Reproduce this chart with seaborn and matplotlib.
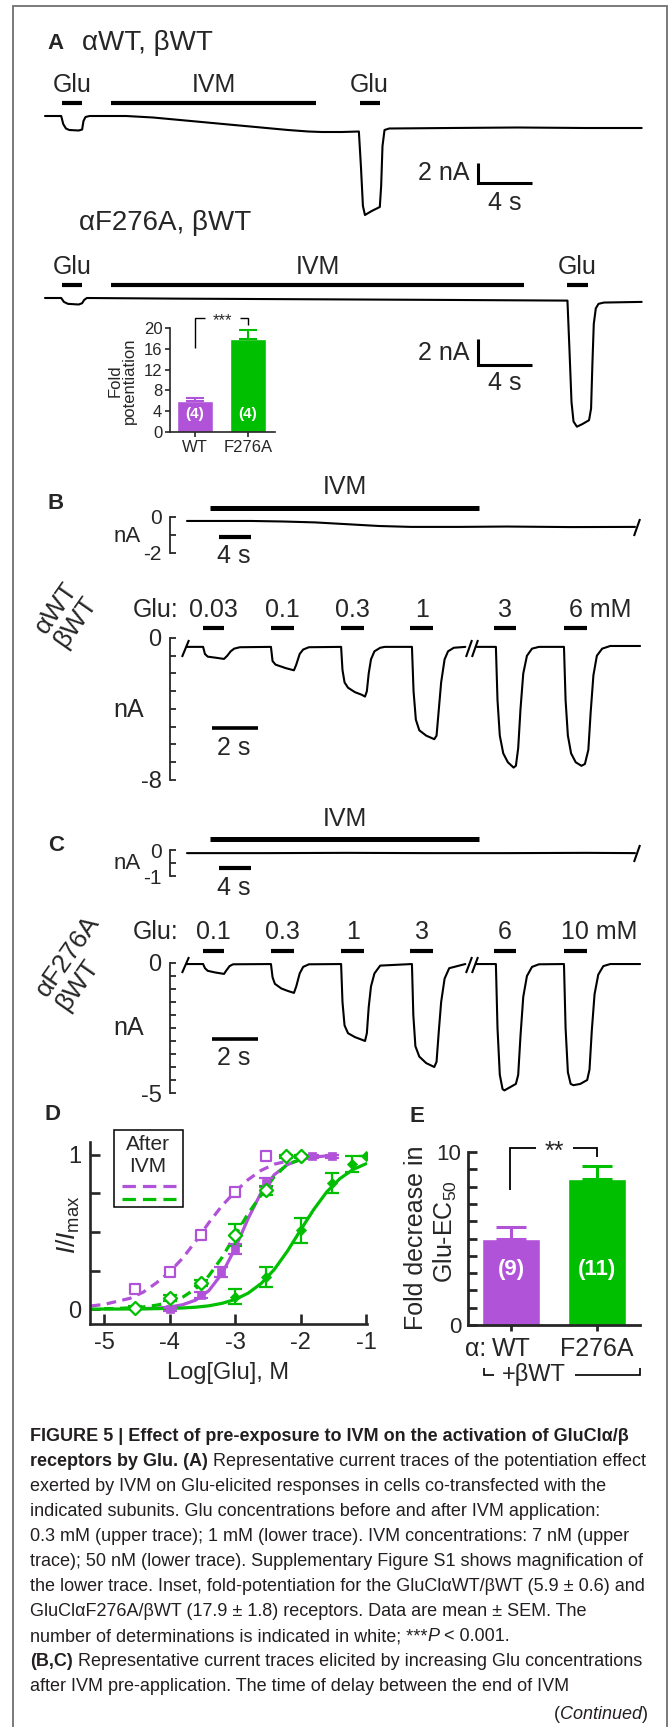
import numpy as np
import matplotlib
matplotlib.use("Agg")
import matplotlib.pyplot as plt
import matplotlib.transforms as mtransforms
from matplotlib import font_manager
import seaborn as sns

W, H = 672, 1727
PURPLE = "#b153d8"
GREEN = "#00be00"

# ---------------- data ----------------
# Panel A, records (time in s, current in nA)
a1_t = [0, 1.2, 1.35, 1.55, 1.8, 2.5, 2.75, 2.85, 3.0, 3.3, 6.0, 8, 10, 12, 14, 16, 18, 19.5, 20.5, 22,
        23.25, 23.4, 23.55, 23.7, 24.2, 24.8, 24.9, 25.0, 25.15, 25.5, 30, 35, 40, 44.2]
a1_i = [0, 0, -0.8, -1.25, -1.4, -1.45, -1.35, -0.5, -0.1, 0, 0, -0.15, -0.4, -0.65, -0.9, -1.15, -1.4, -1.55, -1.6, -1.6,
        -1.55, -5, -9, -9.9, -9.5, -9.1, -7, -3, -1.4, -1.25, -1.2, -1.15, -1.2, -1.2]
a1_glu = [(1.26, 2.74), (23.3, 24.8)]
a1_ivm = (4.9, 20.1)

a2_t = [0, 1.2, 1.4, 1.7, 2.5, 2.75, 2.9, 3.1, 10, 20, 30, 38.7,
        38.85, 39.0, 39.15, 39.4, 39.8, 40.3, 40.45, 40.55, 40.65, 40.8, 41.0, 41.4, 44.2]
a2_i = [0, 0, -0.3, -0.45, -0.5, -0.4, -0.15, 0, -0.05, -0.1, -0.15, -0.2,
        -4, -8, -9.5, -9.9, -9.7, -9.4, -8.5, -5, -2, -0.8, -0.45, -0.35, -0.3]
a2_glu = [(1.26, 2.74), (38.7, 40.2)]
a2_ivm = (4.9, 35.5)

# inset: fold potentiation
inset_rec = ["WT", "F276A"]
inset_fold = [5.9, 17.9]
inset_sem = [0.6, 1.8]
inset_n = ["(4)", "(4)"]

# B/C IVM pre-application records
ivm_bc = (2.9, 36.5)
b_ivm_t = [0, 8, 12, 16, 20, 24, 28, 34, 40, 48, 56]
b_ivm_i = [-0.22, -0.22, -0.25, -0.3, -0.4, -0.5, -0.55, -0.55, -0.53, -0.56, -0.55]
c_ivm_t = [0, 10, 20, 30, 40, 50, 56]
c_ivm_i = [-0.12, -0.12, -0.11, -0.12, -0.12, -0.11, -0.12]

# B/C Glu applications
glu_bc = [(0.70, 1.61), (3.65, 4.65), (6.70, 7.70), (9.70, 10.70), (13.35, 14.30), (16.39, 17.39)]
b_conc = ["0.03", "0.1", "0.3", "1", "3", "6 mM"]
c_conc = ["0.1", "0.3", "1", "3", "6", "10 mM"]

b1_t = [0, 0.70, 0.78, 0.9, 1.3, 1.61, 1.75, 1.9, 2.05, 2.3,
        3.65, 3.72, 3.85, 4.3, 4.65, 4.75, 4.9, 5.05, 5.3,
        6.70, 6.76, 6.85, 7.0, 7.3, 7.6, 7.74, 7.82, 7.9, 8.0, 8.15, 8.4, 8.6,
        9.78, 9.85, 9.95, 10.1, 10.4, 10.75, 10.85, 10.95, 11.05, 11.2, 11.35, 11.6, 12.1]
b1_i = [-0.5, -0.5, -0.9, -1.05, -1.12, -1.18, -1.0, -0.75, -0.6, -0.52,
        -0.5, -1.3, -1.5, -1.7, -1.82, -1.5, -0.9, -0.65, -0.52,
        -0.5, -1.8, -2.5, -2.8, -3.05, -3.2, -3.3, -3.0, -2.0, -1.2, -0.75, -0.55, -0.5,
        -0.5, -3.0, -4.6, -5.2, -5.5, -5.7, -5.5, -4.0, -2.5, -1.2, -0.75, -0.55, -0.5]
b2_t = [12.6, 13.43, 13.5, 13.6, 13.75, 13.95, 14.2, 14.3, 14.4, 14.5, 14.62, 14.78, 15.0, 15.3,
        16.39, 16.46, 16.56, 16.7, 16.9, 17.15, 17.3, 17.45, 17.55, 17.67, 17.82, 18.05, 18.4, 19.7]
b2_i = [-0.5, -0.5, -3.5, -5.5, -6.5, -7.0, -7.3, -7.2, -6.2, -4.0, -2.0, -1.0, -0.6, -0.5,
        -0.5, -3.5, -5.5, -6.5, -7.0, -7.2, -7.1, -6.3, -4.2, -2.1, -1.0, -0.6, -0.45, -0.45]

c1_t = [0, 0.70, 0.78, 0.9, 1.2, 1.61, 1.7, 1.85, 2.0,
        3.65, 3.72, 3.82, 4.1, 4.4, 4.65, 4.75, 4.9, 5.05, 5.3,
        6.70, 6.76, 6.85, 7.0, 7.3, 7.6, 7.74, 7.82, 7.9, 8.0, 8.15, 8.4,
        9.78, 9.84, 9.93, 10.1, 10.4, 10.75, 10.85, 10.95, 11.05, 11.2, 11.4, 12.1]
c1_i = [-0.04, -0.04, -0.2, -0.3, -0.36, -0.42, -0.3, -0.12, -0.05,
        -0.04, -0.55, -0.8, -0.98, -1.08, -1.15, -0.9, -0.4, -0.15, -0.05,
        -0.04, -1.5, -2.4, -2.7, -2.85, -2.95, -3.0, -2.7, -1.7, -0.9, -0.4, -0.1,
        -0.04, -2.0, -3.2, -3.6, -3.85, -4.0, -3.8, -2.6, -1.5, -0.6, -0.2, -0.04]
c2_t = [12.6, 13.43, 13.5, 13.6, 13.72, 13.8, 14.0, 14.3, 14.4, 14.5, 14.62, 14.78, 15.0, 15.3,
        16.39, 16.46, 16.56, 16.68, 16.8, 17.1, 17.4, 17.5, 17.6, 17.72, 17.88, 18.1, 18.4, 19.7]
c2_i = [-0.04, -0.04, -2.5, -4.3, -4.85, -4.9, -4.8, -4.65, -4.3, -2.8, -1.3, -0.5, -0.15, -0.05,
        -0.04, -2.5, -4.2, -4.65, -4.7, -4.65, -4.5, -4.1, -2.6, -1.2, -0.45, -0.12, -0.04, -0.04]

# D: concentration-response (log M, I/Imax)
wt_ivm_x = [-4.52, -4.0, -3.52, -3.0, -2.52]
wt_ivm_y = [0.13, 0.24, 0.48, 0.76, 0.99]
wt_x = [-4.0, -3.52, -3.22, -3.0, -2.52, -1.82, -1.52]
wt_y = [0.0, 0.09, 0.24, 0.39, 0.82, 0.99, 0.99]
wt_err = [0.01, 0.02, 0.03, 0.03, 0.03, 0.01, 0.01]
f_ivm_x = [-4.52, -4.0, -3.52, -3.0, -2.52, -2.22, -2.0]
f_ivm_y = [0.01, 0.07, 0.17, 0.48, 0.77, 0.99, 0.99]
f_ivm_err = [0.01, 0.02, 0.02, 0.07, 0.03, 0.01, 0.01]
f_x = [-3.0, -2.52, -2.0, -1.52, -1.22, -1.0]
f_y = [0.08, 0.21, 0.51, 0.82, 0.94, 0.99]
f_err = [0.05, 0.065, 0.08, 0.065, 0.05, 0.0]

fit_wt_ivm_x = [-5.2, -5.0, -4.8, -4.6, -4.4, -4.2, -4.0, -3.8, -3.6, -3.4, -3.2, -3.0, -2.8, -2.6, -2.4, -2.2]
fit_wt_ivm_y = [0.02, 0.03, 0.05, 0.07, 0.11, 0.17, 0.24, 0.33, 0.44, 0.56, 0.67, 0.76, 0.84, 0.90, 0.94, 0.96]
fit_wt_x = [-4.4, -4.2, -4.0, -3.8, -3.6, -3.4, -3.2, -3.0, -2.8, -2.6, -2.4, -2.2, -2.0, -1.8, -1.6, -1.5]
fit_wt_y = [0.003, 0.006, 0.013, 0.028, 0.058, 0.119, 0.229, 0.392, 0.587, 0.757, 0.872, 0.937, 0.970, 0.986, 0.994, 0.996]
fit_f_ivm_x = [-5.0, -4.8, -4.6, -4.4, -4.2, -4.0, -3.8, -3.6, -3.4, -3.2, -3.0, -2.8, -2.6, -2.4, -2.2, -2.0]
fit_f_ivm_y = [0.002, 0.004, 0.008, 0.014, 0.025, 0.044, 0.077, 0.132, 0.216, 0.334, 0.477, 0.62, 0.74, 0.86, 0.94, 0.97]
fit_f_x = [-5.2, -4.8, -4.4, -4.0, -3.8, -3.6, -3.4, -3.2, -3.0, -2.8, -2.6, -2.4, -2.2, -2.0, -1.8, -1.6, -1.4, -1.2, -1.0]
fit_f_y = [0.0, 0.0, 0.001, 0.004, 0.007, 0.012, 0.021, 0.037, 0.062, 0.103, 0.166, 0.257, 0.376, 0.512, 0.645, 0.760, 0.846, 0.905, 0.943]
d_xticks = [-5, -4, -3, -2, -1]

# E: fold decrease in Glu-EC50
e_rec = ["WT", "F276A"]
e_fold = [5.0, 8.44]
e_sem = [0.65, 0.75]
e_n = ["(9)", "(11)"]

caption = [
    [("FIGURE 5 | Effect of pre-exposure to IVM on the activation of GluClα/β", "bold", "normal")],
    [("receptors by Glu. (A)", "bold", "normal"),
     (" Representative current traces of the potentiation effect", "normal", "normal")],
    [("exerted by IVM on Glu-elicited responses in cells co-transfected with the", "normal", "normal")],
    [("indicated subunits. Glu concentrations before and after IVM application:", "normal", "normal")],
    [("0.3 mM (upper trace); 1 mM (lower trace). IVM concentrations: 7 nM (upper", "normal", "normal")],
    [("trace); 50 nM (lower trace). Supplementary Figure S1 shows magnification of", "normal", "normal")],
    [("the lower trace. Inset, fold-potentiation for the GluClαWT/βWT (5.9 ± 0.6) and", "normal", "normal")],
    [("GluClαF276A/βWT (17.9 ± 1.8) receptors. Data are mean ± SEM. The", "normal", "normal")],
    [("number of determinations is indicated in white; ***", "normal", "normal"), ("P", "normal", "italic"),
     (" < 0.001.", "normal", "normal")],
    [("(B,C)", "bold", "normal"),
     (" Representative current traces elicited by increasing Glu concentrations", "normal", "normal")],
    [("after IVM pre-application. The time of delay between the end of IVM", "normal", "normal")],
]

# ---------------- figure ----------------
sns.set_style("white")
plt.rcParams["font.family"] = ["Liberation Sans", "DejaVu Sans"]
plt.rcParams["mathtext.fontset"] = "custom"
plt.rcParams["mathtext.rm"] = "Liberation Sans"
plt.rcParams["mathtext.it"] = "Liberation Sans:italic"

LBL = 18  # size of trace labels

fig = plt.figure(figsize=(W / 100, H / 100), dpi=100)
ov = fig.add_axes([0, 0, 1, 1])
ov.set_xlim(0, W)
ov.set_ylim(H, 0)
ov.axis("off")
ov.patch.set_visible(False)


def px_axes(x0, x1, y0, y1):
    ax = fig.add_axes([x0 / W, 1 - y1 / H, (x1 - x0) / W, (y1 - y0) / H])
    ax.patch.set_visible(False)
    return ax


def trace_axes(x0, x1, y0, y1, tpx, ipx, px_s, px_na):
    ax = px_axes(x0, x1, y0, y1)
    ax.set_xlim((x0 - tpx) / px_s, (x1 - tpx) / px_s)
    ax.set_ylim((ipx - y1) / px_na, (ipx - y0) / px_na)
    for sp in ax.spines.values():
        sp.set_visible(False)
    ax.set_xticks([])
    ax.set_yticks([])
    return ax


def blend(ax):
    return mtransforms.blended_transform_factory(ax.transData, ov.transData)


def trace(ax, t, i, lw=1.5):
    sns.lineplot(x=t, y=i, ax=ax, color="black", lw=lw, sort=False, estimator=None)


def hbar(ax, span, ypx, lw=3.0):
    ax.plot(list(span), [ypx, ypx], color="black", lw=lw, solid_capstyle="butt",
            transform=blend(ax), clip_on=False)


def btext(ax, t, ypx, s, size=LBL, **kw):
    kw.setdefault("ha", "center")
    ax.text(t, ypx, s, fontsize=size, va="center", transform=blend(ax), clip_on=False, **kw)


def ptext(x, y, s, size=LBL, **kw):
    kw.setdefault("ha", "center")
    kw.setdefault("va", "center")
    return ov.text(x, y, s, fontsize=size, **kw)


def pline(xs, ys, lw=1.2, color="black"):
    ov.plot(xs, ys, color=color, lw=lw, solid_capstyle="butt", solid_joinstyle="miter")


def scalebar(ax, t, i, dt, di):
    ax.plot([t, t, t + dt], [i + di, i, i], color="black", lw=2.2,
            solid_joinstyle="miter", solid_capstyle="butt", clip_on=False)


def nA_axis(ax, ticks, labels, size):
    sp = ax.spines["left"]
    sp.set_visible(True)
    sp.set_bounds(min(ticks), max(ticks))
    sp.set_linewidth(1.3)
    ax.set_yticks(ticks)
    ax.set_yticklabels(labels)
    ax.tick_params(axis="y", direction="in", length=4.5, width=1.3, labelsize=size, pad=6, left=True)


# frame
pline([13, 13, 667, 667], [H + 5, 6, 6, H + 5], lw=1.3, color="#707070")

# ---- Panel A ----
ptext(47, 43, "A", size=16, weight="bold", ha="left")
ptext(82, 43, "αWT, βWT", size=20, ha="left")
axA1 = trace_axes(40, 650, 60, 240, 45, 116, 13.5, 10)
trace(axA1, a1_t, a1_i)
for g in a1_glu:
    hbar(axA1, g, 103)
    btext(axA1, np.mean(g), 85, "Glu")
hbar(axA1, a1_ivm, 103)
btext(axA1, np.mean(a1_ivm), 85, "IVM")
scalebar(axA1, (478 - 45) / 13.5, (116 - 183) / 10, 4, 2)
ptext(469, 173, "2 nA", ha="right")
ptext(505, 203, "4 s")

ptext(79, 223, "αF276A, βWT", size=20, ha="left")
axA2 = trace_axes(40, 650, 240, 440, 45, 298, 13.5, 13)
trace(axA2, a2_t, a2_i)
for g in a2_glu:
    hbar(axA2, g, 285)
    btext(axA2, np.mean(g), 267, "Glu")
hbar(axA2, a2_ivm, 285)
btext(axA2, np.mean(a2_ivm), 267, "IVM")
scalebar(axA2, (478 - 45) / 13.5, (298 - 365) / 13, 4, 2)
ptext(469, 353, "2 nA", ha="right")
ptext(505, 383, "4 s")

# inset
ins = px_axes(170, 275, 328, 432)
sns.barplot(x=inset_rec, y=inset_fold, hue=inset_rec, palette=[PURPLE, GREEN], width=0.68,
            saturation=1, legend=False, ax=ins)
for k, col in enumerate([PURPLE, GREEN]):
    ins.errorbar(k, inset_fold[k], yerr=[[0], [inset_sem[k]]], fmt="none", ecolor=col,
                 elinewidth=1.5, capsize=6.8, capthick=1.5)
    ins.text(k, 3.4, inset_n[k], color="white", fontsize=11, weight="bold", ha="center", va="center")
ins.set_xlim(-0.47, 1.51)
ins.set_ylim(0, 20)
ins.set_yticks([0, 4, 8, 12, 16, 20])
sns.despine(ax=ins)
for s in ["left", "bottom"]:
    ins.spines[s].set_linewidth(1.2)
ins.tick_params(direction="out", length=3.5, width=1.2, labelsize=12, pad=2, left=True, bottom=True)
ptext(122, 381, "Fold\npotentiation", size=12, rotation=90, linespacing=0.95)
pline([195, 195, 205], [348, 318, 318], lw=1.0)
pline([240, 248, 248], [318, 318, 325], lw=1.0)
ptext(222, 321, "***", size=12)

# ---- Panel B ----
ptext(56, 503, "B", size=16, weight="bold")
axBt = trace_axes(170, 645, 480, 565, 187, 517, 8, 18)
trace(axBt, b_ivm_t, b_ivm_i)
hbar(axBt, ivm_bc, 508, lw=3.6)
btext(axBt, np.mean(ivm_bc), 487, "IVM")
hbar(axBt, (4.0, 8.0), 537)
nA_axis(axBt, [-2, -1, 0], ["-2", "", "0"], 15)
ptext(127, 536, "nA", size=16)
ptext(234, 556, "4 s")
pline([634, 640], [536, 519], lw=1.5)

ptext(66, 615, "αWT\nβWT", size=19, rotation=55, multialignment="left", linespacing=1.0)

axB = trace_axes(170, 645, 595, 790, 187, 638, 23, 17.75)
trace(axB, b1_t, b1_i)
trace(axB, b2_t, b2_i)
ptext(179, 610, "Glu:", ha="right")
for k, g in enumerate(glu_bc):
    hbar(axB, g, 628)
    if k < len(glu_bc) - 1:
        btext(axB, np.mean(g), 610, b_conc[k])
    else:
        btext(axB, np.mean(g) - 0.3, 610, b_conc[k], ha="left")
nA_axis(axB, list(range(-8, 1)), ["-8"] + [""] * 7 + ["0"], 17)
hbar(axB, (1.09, 3.09), 728, lw=2.6)
ptext(129, 710, "nA")
ptext(234, 748, "2 s")
pline([182, 189], [657, 640], lw=1.5)
pline([466, 472], [657, 640], lw=1.5)
pline([472, 478], [657, 640], lw=1.5)

# ---- Panel C ----
ptext(56, 845, "C", size=16, weight="bold")
axCt = trace_axes(170, 645, 812, 890, 187, 850, 8, 26)
trace(axCt, c_ivm_t, c_ivm_i)
hbar(axCt, ivm_bc, 839, lw=3.6)
btext(axCt, np.mean(ivm_bc), 819, "IVM")
hbar(axCt, (4.0, 8.0), 868)
nA_axis(axCt, [-1, -0.5, 0], ["-1", "", "0"], 15)
ptext(127, 863, "nA", size=16)
ptext(234, 888, "4 s")
pline([634, 640], [862, 845], lw=1.5)

ptext(78, 963, "αF276A\nβWT", size=19, rotation=55, multialignment="left", linespacing=1.0)

axC = trace_axes(170, 645, 920, 1100, 187, 963, 23, 26)
trace(axC, c1_t, c1_i)
trace(axC, c2_t, c2_i)
ptext(179, 932, "Glu:", ha="right")
for k, g in enumerate(glu_bc):
    hbar(axC, g, 951)
    if k < len(glu_bc) - 1:
        btext(axC, np.mean(g), 932, c_conc[k])
    else:
        btext(axC, np.mean(g) - 0.65, 932, c_conc[k], ha="left")
nA_axis(axC, [-5, -4.5, -4, -3.5, -3, -2.5, -2, -1.5, -1, -0.5, 0], ["-5"] + [""] * 9 + ["0"], 17)
hbar(axC, (1.09, 3.09), 1039, lw=2.6)
ptext(129, 1028, "nA")
ptext(234, 1058, "2 s")
pline([182, 189], [973, 957], lw=1.5)
pline([466, 472], [973, 957], lw=1.5)
pline([472, 478], [973, 957], lw=1.5)

# ---- Panel D ----
ptext(53, 1115, "D", size=16, weight="bold")
axD = px_axes(90, 367, 1142, 1324)
for fx, fy, col, dashed in [(fit_wt_ivm_x, fit_wt_ivm_y, PURPLE, True), (fit_wt_x, fit_wt_y, PURPLE, False),
                            (fit_f_ivm_x, fit_f_ivm_y, GREEN, True), (fit_f_x, fit_f_y, GREEN, False)]:
    sns.lineplot(x=fx, y=fy, ax=axD, color=col, lw=2.3, sort=False, estimator=None)
    if dashed:
        axD.lines[-1].set_dashes((3, 2))
for x, y, e, col in [(wt_x, wt_y, wt_err, PURPLE), (f_ivm_x, f_ivm_y, f_ivm_err, GREEN), (f_x, f_y, f_err, GREEN)]:
    axD.errorbar(x, y, yerr=e, fmt="none", ecolor=col, elinewidth=1.6, capsize=5, capthick=1.6, zorder=3)
sns.scatterplot(x=wt_ivm_x, y=wt_ivm_y, ax=axD, marker="s", s=45, color="white", edgecolor=PURPLE,
                linewidth=1.6, zorder=4)
sns.scatterplot(x=wt_x, y=wt_y, ax=axD, marker="s", s=40, color=PURPLE, edgecolor=PURPLE, zorder=4)
sns.scatterplot(x=f_ivm_x, y=f_ivm_y, ax=axD, marker="D", s=45, color="white", edgecolor=GREEN,
                linewidth=1.6, zorder=4)
sns.scatterplot(x=f_x, y=f_y, ax=axD, marker="D", s=28, color=GREEN, edgecolor=GREEN, zorder=4)
axD.set_xlim(-5.214, -0.985)
axD.set_ylim(-0.097, 1.084)
sns.despine(ax=axD)
for s in ["left", "bottom"]:
    axD.spines[s].set_linewidth(1.9)
axD.set_xticks(d_xticks)
axD.set_xticklabels([str(v) for v in d_xticks])
axD.set_yticks([0, 0.25, 0.5, 0.75, 1])
axD.set_yticklabels(["0", "", "", "", "1"])
axD.tick_params(direction="in", length=7, width=1.9, labelsize=17, left=True, bottom=True)
axD.tick_params(axis="x", pad=6)
axD.tick_params(axis="y", pad=6)
ptext(228, 1373, "Log[Glu], M", size=17)
ptext(68, 1225, r"$I/I_{\mathrm{max}}$", size=19, rotation=90)
ov.add_patch(plt.Rectangle((114, 1130), 69, 77, fill=False, lw=1.1, edgecolor="black"))
ptext(148, 1145, "After", size=15)
ptext(148, 1167, "IVM", size=15)
for yy, col in [(1186, PURPLE), (1199, GREEN)]:
    ln, = ov.plot([122, 176], [yy, yy], color=col, lw=2.3)
    ln.set_dashes((4.2, 2.2))

# ---- Panel E ----
ptext(417, 1116, "E", size=16, weight="bold")
axE = px_axes(468, 640, 1152, 1325)
sns.barplot(x=e_rec, y=e_fold, hue=e_rec, palette=[PURPLE, GREEN], width=0.67,
            saturation=1, legend=False, ax=axE)
for k, col in enumerate([PURPLE, GREEN]):
    axE.errorbar(k, e_fold[k], yerr=[[0], [e_sem[k]]], fmt="none", ecolor=col,
                 elinewidth=2.2, capsize=11, capthick=2.2)
    axE.text(k, 3.2, e_n[k], color="white", fontsize=16, weight="bold", ha="center", va="center")
axE.set_xlim(-0.5, 1.5)
axE.set_ylim(0, 10)
sns.despine(ax=axE)
for s in ["left", "bottom"]:
    axE.spines[s].set_linewidth(2.0)
axE.set_yticks(list(range(0, 11)))
axE.set_yticklabels(["0"] + [""] * 9 + ["10"])
axE.tick_params(axis="y", direction="in", length=6.5, width=2.0, labelsize=16, pad=5, left=True)
axE.tick_params(axis="x", direction="out", length=4.5, width=2.0, labelsize=18, pad=4, bottom=True)
ptext(416, 1238, "Fold decrease in", size=18, rotation=90)
ptext(445, 1232, "Glu-EC$_{50}$", size=18, rotation=90)
pline([510, 510, 536], [1190, 1148, 1148], lw=1.3)
pline([573, 597, 597], [1148, 1148, 1157], lw=1.3)
ptext(554, 1152, "**", size=18)
ptext(486, 1349, "α:", ha="right")
pline([484, 484, 494], [1368, 1375, 1375], lw=1.2)
ptext(534, 1374, "+βWT", size=17)
pline([575, 640, 640], [1375, 1375, 1368], lw=1.2)

# ---- caption ----
names = {f.name for f in font_manager.fontManager.ttflist}
cap_family = "Liberation Sans Narrow" if "Liberation Sans Narrow" in names else "Liberation Sans"
renderer = fig.canvas.get_renderer()
probe = ov.text(0, 0, caption[6][0][0], fontsize=10, family=cap_family)
cap_size = 10 * 617 / probe.get_window_extent(renderer).width
probe.remove()
p1 = ov.text(0, 0, "x x", fontsize=cap_size, family=cap_family)
p2 = ov.text(0, 0, "xx", fontsize=cap_size, family=cap_family)
space_w = p1.get_window_extent(renderer).width - p2.get_window_extent(renderer).width
p1.remove()
p2.remove()

y = 1441
for line in caption:
    x = 30
    for s, w, st in line:
        if s.startswith(" "):
            x += space_w
            s = s.lstrip()
        t = ov.text(x, y, s, fontsize=cap_size, fontweight=w, fontstyle=st, family=cap_family,
                    va="baseline", ha="left", color="#231f20")
        x += t.get_window_extent(renderer).width
    y += 25
xr = 648
for s, st in [(")", "normal"), ("Continued", "italic"), ("(", "normal")]:
    t = ov.text(xr, 1719, s, fontsize=cap_size, fontstyle=st, family=cap_family,
                va="baseline", ha="right", color="#231f20")
    xr -= t.get_window_extent(renderer).width

fig.savefig("out.png", dpi=100)
